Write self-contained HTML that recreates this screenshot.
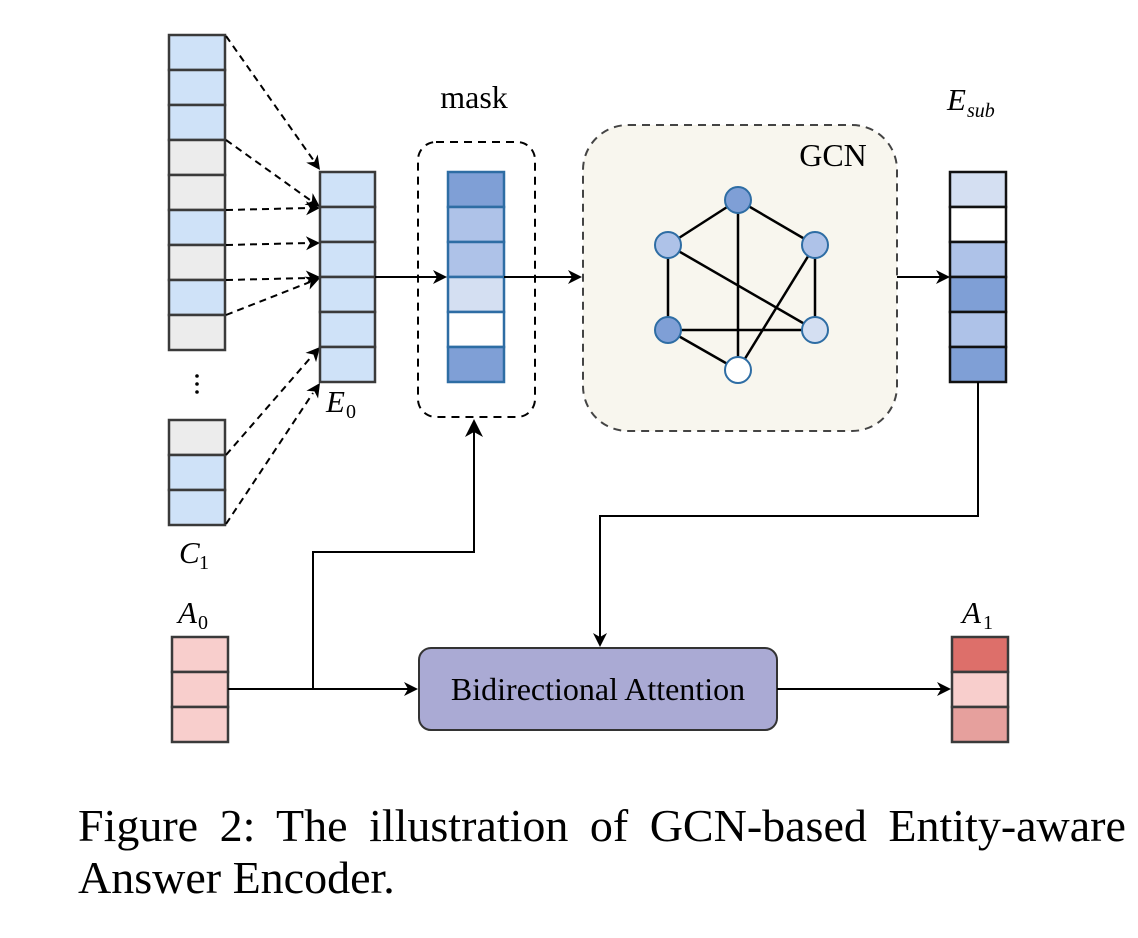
<!DOCTYPE html>
<html><head><style>
html,body{margin:0;padding:0;background:#fff;}
svg{display:block;}
text{font-family:"Liberation Serif",serif;fill:#000;}
</style></head><body>
<svg width="1138" height="938" viewBox="0 0 1138 938" xmlns="http://www.w3.org/2000/svg">
<defs>
<path id="ah" d="M0,0 L-14,-7 L-10,0 L-14,7 z" fill="#000"/>
<path id="ahb" d="M0,0 L-18,-9 L-13,0 L-18,9 z" fill="#000"/>
</defs>
<!-- C column -->
<g stroke="#3a3a3a" stroke-width="2.5">
<rect x="169" y="35" width="56" height="35" fill="#cfe2f8"/>
<rect x="169" y="70" width="56" height="35" fill="#cfe2f8"/>
<rect x="169" y="105" width="56" height="35" fill="#cfe2f8"/>
<rect x="169" y="140" width="56" height="35" fill="#ececec"/>
<rect x="169" y="175" width="56" height="35" fill="#ececec"/>
<rect x="169" y="210" width="56" height="35" fill="#cfe2f8"/>
<rect x="169" y="245" width="56" height="35" fill="#ececec"/>
<rect x="169" y="280" width="56" height="35" fill="#cfe2f8"/>
<rect x="169" y="315" width="56" height="35" fill="#ececec"/>
<rect x="169" y="420" width="56" height="35" fill="#ececec"/>
<rect x="169" y="455" width="56" height="35" fill="#cfe2f8"/>
<rect x="169" y="490" width="56" height="35" fill="#cfe2f8"/>
</g>
<g fill="#000"><circle cx="197" cy="376" r="1.8"/><circle cx="197" cy="384" r="1.8"/><circle cx="197" cy="392" r="1.8"/></g>
<text x="179" y="563" font-size="31" font-style="italic">C</text><text x="199" y="569" font-size="20">1</text>
<!-- dashed arrows -->
<g stroke="#000" stroke-width="2" stroke-dasharray="7,5" fill="none">
<line x1="226" y1="36" x2="314" y2="161"/>
<line x1="226" y1="140" x2="310" y2="200"/>
<line x1="226" y1="210" x2="309" y2="208"/>
<line x1="226" y1="245" x2="309" y2="243"/>
<line x1="226" y1="280" x2="309" y2="278"/>
<line x1="226" y1="315" x2="310" y2="282"/>
<line x1="226" y1="455" x2="312" y2="356"/>
<line x1="226" y1="524" x2="313" y2="393"/>
</g>
<use href="#ah" transform="translate(320,170) rotate(54.9)"/>
<use href="#ah" transform="translate(320,207) rotate(35.5)"/>
<use href="#ah" transform="translate(320,208) rotate(-1.2)"/>
<use href="#ah" transform="translate(320,243) rotate(-1.2)"/>
<use href="#ah" transform="translate(320,277) rotate(-1.8)"/>
<use href="#ah" transform="translate(320,278) rotate(-21.5)"/>
<use href="#ah" transform="translate(320,347) rotate(-48.8)"/>
<use href="#ah" transform="translate(320,383) rotate(-56.3)"/>
<!-- E0 -->
<g stroke="#3a3a3a" stroke-width="2.5" fill="#cfe2f8">
<rect x="320" y="172" width="55" height="35"/><rect x="320" y="207" width="55" height="35"/><rect x="320" y="242" width="55" height="35"/>
<rect x="320" y="277" width="55" height="35"/><rect x="320" y="312" width="55" height="35"/><rect x="320" y="347" width="55" height="35"/>
</g>
<text x="326" y="412" font-size="31" font-style="italic">E</text><text x="346" y="418" font-size="20">0</text>
<!-- mask -->
<text x="474" y="108" font-size="32" text-anchor="middle">mask</text>
<rect x="418" y="142" width="117" height="275" rx="18" fill="none" stroke="#000" stroke-width="2" stroke-dasharray="8,6"/>
<g stroke="#2e6da4" stroke-width="2.5">
<rect x="448" y="172" width="56" height="35" fill="#7f9fd6"/><rect x="448" y="207" width="56" height="35" fill="#aec2e8"/>
<rect x="448" y="242" width="56" height="35" fill="#aec2e8"/><rect x="448" y="277" width="56" height="35" fill="#d4dff2"/>
<rect x="448" y="312" width="56" height="35" fill="#fff"/><rect x="448" y="347" width="56" height="35" fill="#7f9fd6"/>
</g>
<line x1="375" y1="277" x2="440" y2="277" stroke="#000" stroke-width="2"/>
<use href="#ah" transform="translate(447,277)"/>
<line x1="504" y1="277" x2="574" y2="277" stroke="#000" stroke-width="2"/>
<use href="#ah" transform="translate(582,277)"/>
<!-- GCN -->
<rect x="583" y="125" width="314" height="306" rx="45" fill="#f8f6ee" stroke="#444" stroke-width="2" stroke-dasharray="8,6"/>
<text x="833" y="166" font-size="32" text-anchor="middle">GCN</text>
<g stroke="#000" stroke-width="2.5">
<line x1="738" y1="200" x2="668" y2="245"/><line x1="738" y1="200" x2="815" y2="245"/><line x1="738" y1="200" x2="738" y2="370"/>
<line x1="668" y1="245" x2="668" y2="330"/><line x1="668" y1="245" x2="815" y2="330"/><line x1="815" y1="245" x2="815" y2="330"/>
<line x1="815" y1="245" x2="738" y2="370"/><line x1="668" y1="330" x2="815" y2="330"/><line x1="668" y1="330" x2="738" y2="370"/>
</g>
<g stroke="#2e6da4" stroke-width="2">
<circle cx="738" cy="200" r="13" fill="#7f9fd6"/><circle cx="668" cy="245" r="13" fill="#aec2e8"/><circle cx="815" cy="245" r="13" fill="#aec2e8"/>
<circle cx="668" cy="330" r="13" fill="#7f9fd6"/><circle cx="815" cy="330" r="13" fill="#d4dff2"/><circle cx="738" cy="370" r="13" fill="#fff"/>
</g>
<line x1="897" y1="277" x2="942" y2="277" stroke="#000" stroke-width="2"/>
<use href="#ah" transform="translate(950,277)"/>
<!-- Esub -->
<text x="947" y="110" font-size="31" font-style="italic">E</text><text x="967" y="117" font-size="20" font-style="italic">sub</text>
<g stroke="#111" stroke-width="2.5">
<rect x="950" y="172" width="56" height="35" fill="#d4dff2"/><rect x="950" y="207" width="56" height="35" fill="#fff"/>
<rect x="950" y="242" width="56" height="35" fill="#aec2e8"/><rect x="950" y="277" width="56" height="35" fill="#7f9fd6"/>
<rect x="950" y="312" width="56" height="35" fill="#aec2e8"/><rect x="950" y="347" width="56" height="35" fill="#7f9fd6"/>
</g>
<polyline points="978,382 978,516 600,516 600,638" fill="none" stroke="#000" stroke-width="2"/>
<use href="#ah" transform="translate(600,647) rotate(90)"/>
<!-- A0 -->
<text x="178" y="623" font-size="31" font-style="italic">A</text><text x="198" y="629" font-size="20">0</text>
<g stroke="#3a3a3a" stroke-width="2.5" fill="#f8cecc">
<rect x="172" y="637" width="56" height="35"/><rect x="172" y="672" width="56" height="35"/><rect x="172" y="707" width="56" height="35"/>
</g>
<line x1="228" y1="689" x2="410" y2="689" stroke="#000" stroke-width="2"/>
<use href="#ah" transform="translate(418,689)"/>
<polyline points="313,689 313,552 474,552 474,430" fill="none" stroke="#000" stroke-width="2"/>
<use href="#ahb" transform="translate(474,419) rotate(-90)"/>
<rect x="419" y="648" width="358" height="82" rx="12" fill="#aaaad4" stroke="#333" stroke-width="2"/>
<text x="598" y="700" font-size="32" text-anchor="middle">Bidirectional Attention</text>
<line x1="777" y1="689" x2="943" y2="689" stroke="#000" stroke-width="2"/>
<use href="#ah" transform="translate(951,689)"/>
<!-- A1 -->
<text x="962" y="623" font-size="31" font-style="italic">A</text><text x="983" y="629" font-size="20">1</text>
<g stroke="#3a3a3a" stroke-width="2.5">
<rect x="952" y="637" width="56" height="35" fill="#dd6f6a"/><rect x="952" y="672" width="56" height="35" fill="#f8cecc"/><rect x="952" y="707" width="56" height="35" fill="#e6a09d"/>
</g>
<!-- caption -->
<text x="78" y="841" font-size="46" word-spacing="10">Figure 2:  The illustration of GCN-based Entity-aware</text>
<text x="78" y="893" font-size="46">Answer Encoder.</text>
</svg>
</body></html>
